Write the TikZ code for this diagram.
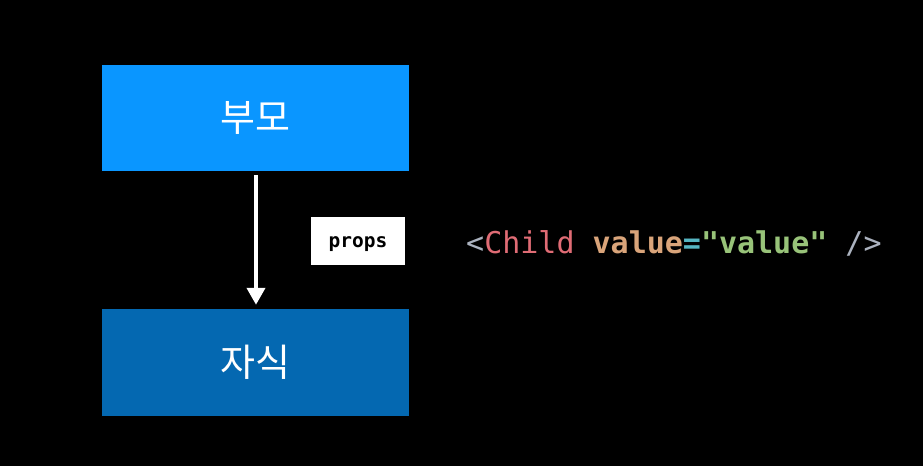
\documentclass[tikz,border=0pt]{standalone}
\usepackage{fontspec}
\setmonofont{DejaVu Sans Mono}
\newfontfamily\kofont{Noto Sans CJK KR}
\usepackage{tikz}
\usetikzlibrary{arrows.meta}
\usepackage{xcolor}
\definecolor{parentblue}{HTML}{0A96FF}
\definecolor{childblue}{HTML}{0468B1}
\definecolor{tagcol}{HTML}{ABB2BF}
\definecolor{namecol}{HTML}{E06C75}
\definecolor{attrcol}{HTML}{D9A47A}
\definecolor{eqcol}{HTML}{56B6C2}
\definecolor{strcol}{HTML}{98C379}

\begin{document}
\begin{tikzpicture}[x=1pt,y=-1pt,shorten >= 4pt, shorten <= 4pt]
    \tikzstyle{every node}=[inner sep=0pt]
    \tikzstyle{box}=[rectangle,minimum width=307pt,text=white,font=\kofont\fontsize{38}{44}\selectfont]
    \fill[black] (0,0) rectangle (923,466);
    \useasboundingbox (0,0) rectangle (923,466);
      \node[box,fill=parentblue,minimum height=106pt] (parent) at (255.5,118) {부모};
      \node[box,fill=childblue,minimum height=107pt] (child) at (255.5,362.5) {자식};
      \node[fill=white,minimum width=94pt,minimum height=48pt,text height=14pt,text depth=2pt,font=\ttfamily\bfseries\fontsize{19.5}{24}\selectfont] (props) at (358,241) {props};
      \node[anchor=base west,font=\ttfamily\fontsize{30}{36}\selectfont] (code) at (466,253)
        {\textcolor{tagcol}{<}\textcolor{namecol}{Child} \textbf{\textcolor{attrcol}{value}\textcolor{eqcol}{=}\textcolor{strcol}{"value"}} \textcolor{tagcol}{/>}};
      \draw[white,line width=4pt,-{Triangle[width=18pt,length=17pt]}] (parent.south -| 256,0) to (child.north -| 256,0);
\end{tikzpicture}
\end{document}
